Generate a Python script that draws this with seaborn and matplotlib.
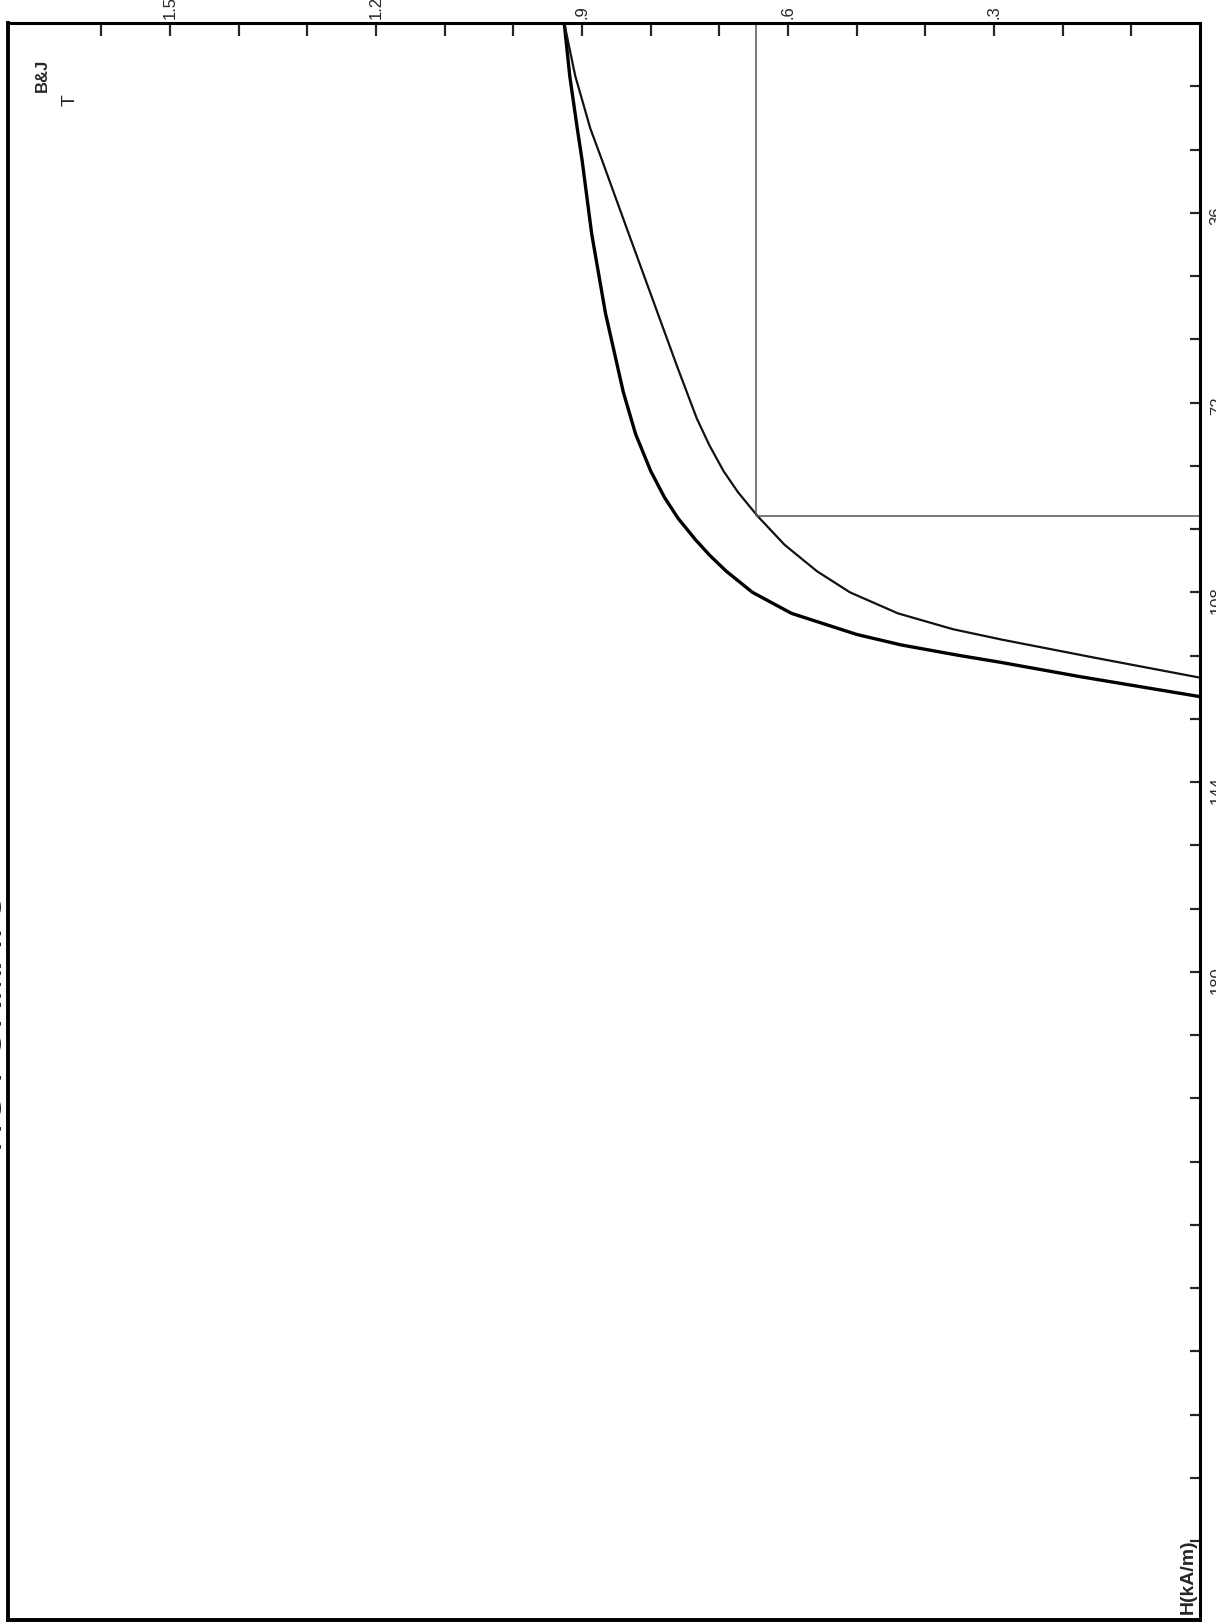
import seaborn as sns
import matplotlib.pyplot as plt
from matplotlib.ticker import FixedLocator

# demagnetisation curves (B in T, H in kA/m)
H_outer = [0, 10, 20, 26, 40, 55, 70, 78, 85, 90, 94, 98, 101, 104, 108, 112,
           116, 118, 120, 121.3, 124, 127.8]
B_outer = [0.926, 0.918, 0.907, 0.900, 0.886, 0.866, 0.840, 0.822, 0.800, 0.780,
           0.760, 0.735, 0.714, 0.690, 0.652, 0.595, 0.500, 0.435, 0.350, 0.290,
           0.175, 0.0]

H_inner = [0, 10, 20, 26, 40, 55, 65, 75, 80, 85, 89, 93.6, 99, 104, 108, 112,
           115, 117, 120.5, 124.2]
B_inner = [0.926, 0.910, 0.888, 0.871, 0.832, 0.790, 0.762, 0.733, 0.715, 0.694,
           0.673, 0.644, 0.605, 0.558, 0.510, 0.440, 0.360, 0.288, 0.150, 0.0]

# working point guide lines
knee_B = 0.646
knee_H = 93.5

B_ticks = [0.3, 0.6, 0.9, 1.2, 1.5]
B_labels = ['.3', '.6', '.9', '1.2', '1.5']
B_minor = [0.1, 0.2, 0.4, 0.5, 0.7, 0.8, 1.0, 1.1, 1.3, 1.4, 1.6]
H_ticks = [36, 72, 108, 144, 180]
H_labels = ['36', '72', '108', '144', '180']
H_minor = [12, 24, 48, 60, 84, 96, 120, 132, 156, 168, 192, 204, 216, 228, 240,
           252, 264, 276, 288]

sns.set_style('white')
plt.rcParams['font.family'] = ['Liberation Sans', 'DejaVu Sans']

fig = plt.figure(figsize=(12.16, 16.23), dpi=100)
ax = fig.add_axes([0.0066, 0.0018, 0.9803, 0.9840])

sns.lineplot(x=B_outer, y=H_outer, sort=False, estimator=None, color='black', lw=2.4, ax=ax)
sns.lineplot(x=B_inner, y=H_inner, sort=False, estimator=None, color='#111111', lw=1.6, ax=ax)

ax.vlines(knee_B, 0, knee_H, color='#555555', lw=1.1)
ax.hlines(knee_H, 0, knee_B, color='#555555', lw=1.1)

ax.set_xlim(1.736, 0)
ax.set_ylim(303, 0)

# B axis along the top
ax.xaxis.tick_top()
ax.xaxis.set_major_locator(FixedLocator(B_ticks))
ax.set_xticklabels(B_labels)
ax.xaxis.set_minor_locator(FixedLocator(B_minor))
ax.tick_params(axis='x', which='both', direction='in', length=9, width=1.6,
               labelsize=12, labelrotation=90, pad=3)

# H axis along the right side
ax.yaxis.tick_right()
ax.yaxis.set_major_locator(FixedLocator(H_ticks))
ax.set_yticklabels(H_labels)
ax.yaxis.set_minor_locator(FixedLocator(H_minor))
ax.tick_params(axis='y', which='both', direction='in', length=7, width=1.6,
               labelsize=12, labelrotation=90, pad=7)

for name, sp in ax.spines.items():
    sp.set_visible(True)
    sp.set_color('black')
    sp.set_linewidth(2.8 if name in ('left', 'bottom') else 2.2)

ax.set_xlabel('')
ax.set_ylabel('')
ax.text(0.029, 0.967, 'B&J', transform=ax.transAxes, rotation=90,
        ha='center', va='center', fontsize=12, fontweight='bold')
ax.text(0.052, 0.952, 'T', transform=ax.transAxes, rotation=90,
        ha='center', va='center', fontsize=14)
ax.text(0.997, 0.004, 'H(kA/m)', transform=ax.transAxes, rotation=90,
        ha='right', va='bottom', fontsize=14, fontweight='bold')

# title of the sheet, mostly cut off by the left edge of the scan
fig.text(0.0085, 0.291, 'HG FORMATO', rotation=90, ha='right', va='bottom',
         fontsize=28, color='#222222')

fig.savefig('out.png', dpi=100)
